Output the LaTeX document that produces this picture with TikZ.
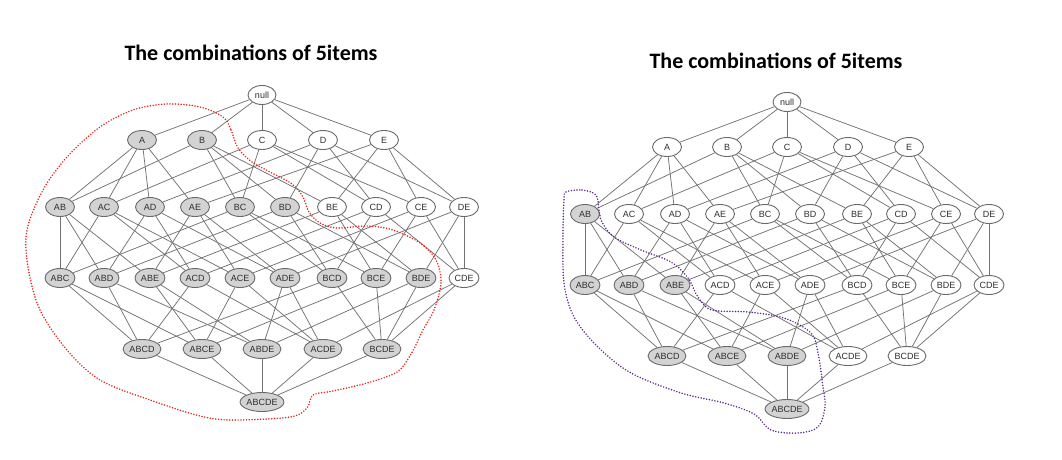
\documentclass[tikz,border=0pt]{standalone}
\usepackage{fontspec}
\setmainfont{Liberation Sans}
\newfontfamily\titlefont{Carlito}
\usetikzlibrary{shapes.geometric}
\definecolor{nodegray}{HTML}{D3D3D3}
\definecolor{edgegray}{HTML}{737373}
\definecolor{bordergray}{HTML}{6A6A6A}
\definecolor{textgray}{HTML}{2E2E2E}
\definecolor{dotred}{HTML}{E8231C}
\definecolor{dotpurple}{HTML}{5A2A8C}
\tikzset{
  lat/.style={ellipse, draw=bordergray, line width=0.9pt, inner sep=0pt,
    minimum height=19pt, text=textgray, font=\fontsize{9}{10}\selectfont},
  edge/.style={draw=edgegray, line width=0.75pt},
  titletext/.style={font=\titlefont\bfseries\fontsize{22}{24}\selectfont, text=black},
  dotline/.style={line width=1.7pt, line cap=round, dash pattern=on 0pt off 2.8pt}
}
\newcommand\latnode[5]{%
  \ifcsname gr#1-#2\endcsname\def\latfill{nodegray}\else\def\latfill{white}\fi
  \node[lat, minimum width=#5pt, fill=\latfill] (#1#2) at (#3,#4) {#2};}
\newcommand\lattice[1]{%
  \foreach \n/\x/\y/\w in {null/262/95/28,
    A/142/140/29, B/202/140/29, C/262/140/29, D/323/140/29, E/384/140/29,
    AB/60/207/29, AC/104/207/29, AD/150/207/29, AE/195/207/29, BC/240/207/29,
    BD/285/207/29, BE/332/207/29, CD/376/207/29, CE/421/207/29, DE/464/207/29,
    ABC/60/278/30, ABD/104/278/30, ABE/150/278/30, ACD/195/278/30, ACE/240/278/30,
    ADE/285/278/30, BCD/332/278/30, BCE/376/278/30, BDE/421/278/30, CDE/464/278/30,
    ABCD/142/349/38, ABCE/202/349/38, ABDE/262/349/38, ACDE/323/349/38, BCDE/382/349/38,
    ABCDE/262/402/40}{\latnode{#1}{\n}{\x}{\y}{\w}}
  \foreach \p/\cs in {null/{A,B,C,D,E},
    A/{AB,AC,AD,AE}, B/{AB,BC,BD,BE}, C/{AC,BC,CD,CE}, D/{AD,BD,CD,DE}, E/{AE,BE,CE,DE},
    AB/{ABC,ABD,ABE}, AC/{ABC,ACD,ACE}, AD/{ABD,ACD,ADE}, AE/{ABE,ACE,ADE},
    BC/{ABC,BCD,BCE}, BD/{ABD,BCD,BDE}, BE/{ABE,BCE,BDE}, CD/{ACD,BCD,CDE},
    CE/{ACE,BCE,CDE}, DE/{ADE,BDE,CDE},
    ABC/{ABCD,ABCE}, ABD/{ABCD,ABDE}, ABE/{ABCE,ABDE}, ACD/{ABCD,ACDE},
    ACE/{ABCE,ACDE}, ADE/{ABDE,ACDE}, BCD/{ABCD,BCDE}, BCE/{ABCE,BCDE},
    BDE/{ABDE,BCDE}, CDE/{ACDE,BCDE},
    ABCD/{ABCDE}, ABCE/{ABCDE}, ABDE/{ABCDE}, ACDE/{ABCDE}, BCDE/{ABCDE}}
    {\foreach \c in \cs {\draw[edge] (#1\p) -- (#1\c);}}}
\foreach \n in {A,B,AB,AC,AD,AE,BC,BD,ABC,ABD,ABE,ACD,ACE,ADE,BCD,BCE,BDE,
  ABCD,ABCE,ABDE,ACDE,BCDE,ABCDE}{\expandafter\gdef\csname grL-\n\endcsname{}}
\foreach \n in {AB,ABC,ABD,ABE,ABCD,ABCE,ABDE,ABCDE}{\expandafter\gdef\csname grR-\n\endcsname{}}
\begin{document}
\begin{tikzpicture}[x=1pt,y=-1pt]
\useasboundingbox[fill=white] (0,0) rectangle (1062,460);
\node[titletext] (titleL) at (251,53) {The combinations of 5items};
\node[titletext] (titleR) at (776,61) {The combinations of 5items};
\lattice{L}
\begin{scope}[shift={(525,7)}]
\lattice{R}
\end{scope}
\draw[dotline, dotred] plot[smooth cycle, tension=0.55] coordinates {
 (223,117) (231,130) (238,148) (252,162) (270,172) (292,184) (303,197) (309,212)
 (320,223) (337,228) (367,226) (393,230) (420,243) (436,260) (441,283) (434,310)
 (423,330) (411,354) (397,372) (367,383) (333,391) (313,395) (307,408) (290,417)
 (233,420) (200,416) (150,400) (100,380) (67,350) (40,310) (28,267) (27,230)
 (43,190) (67,157) (100,127) (133,110) (167,104) (200,107)};
\draw[dotline, dotpurple] plot[smooth cycle, tension=0.55] coordinates {
 (566,192) (582,190) (596,195) (599,210) (602,222) (614,237) (641,250) (671,262)
 (688,278) (698,297) (712,310) (748,312) (784,318) (811,333) (818,353) (823,387)
 (825,407) (818,427) (798,433) (771,430) (754,414) (724,403) (681,393) (631,373)
 (598,347) (574,317) (564,283) (563,233) (564,200)};
\end{tikzpicture}
\end{document}
